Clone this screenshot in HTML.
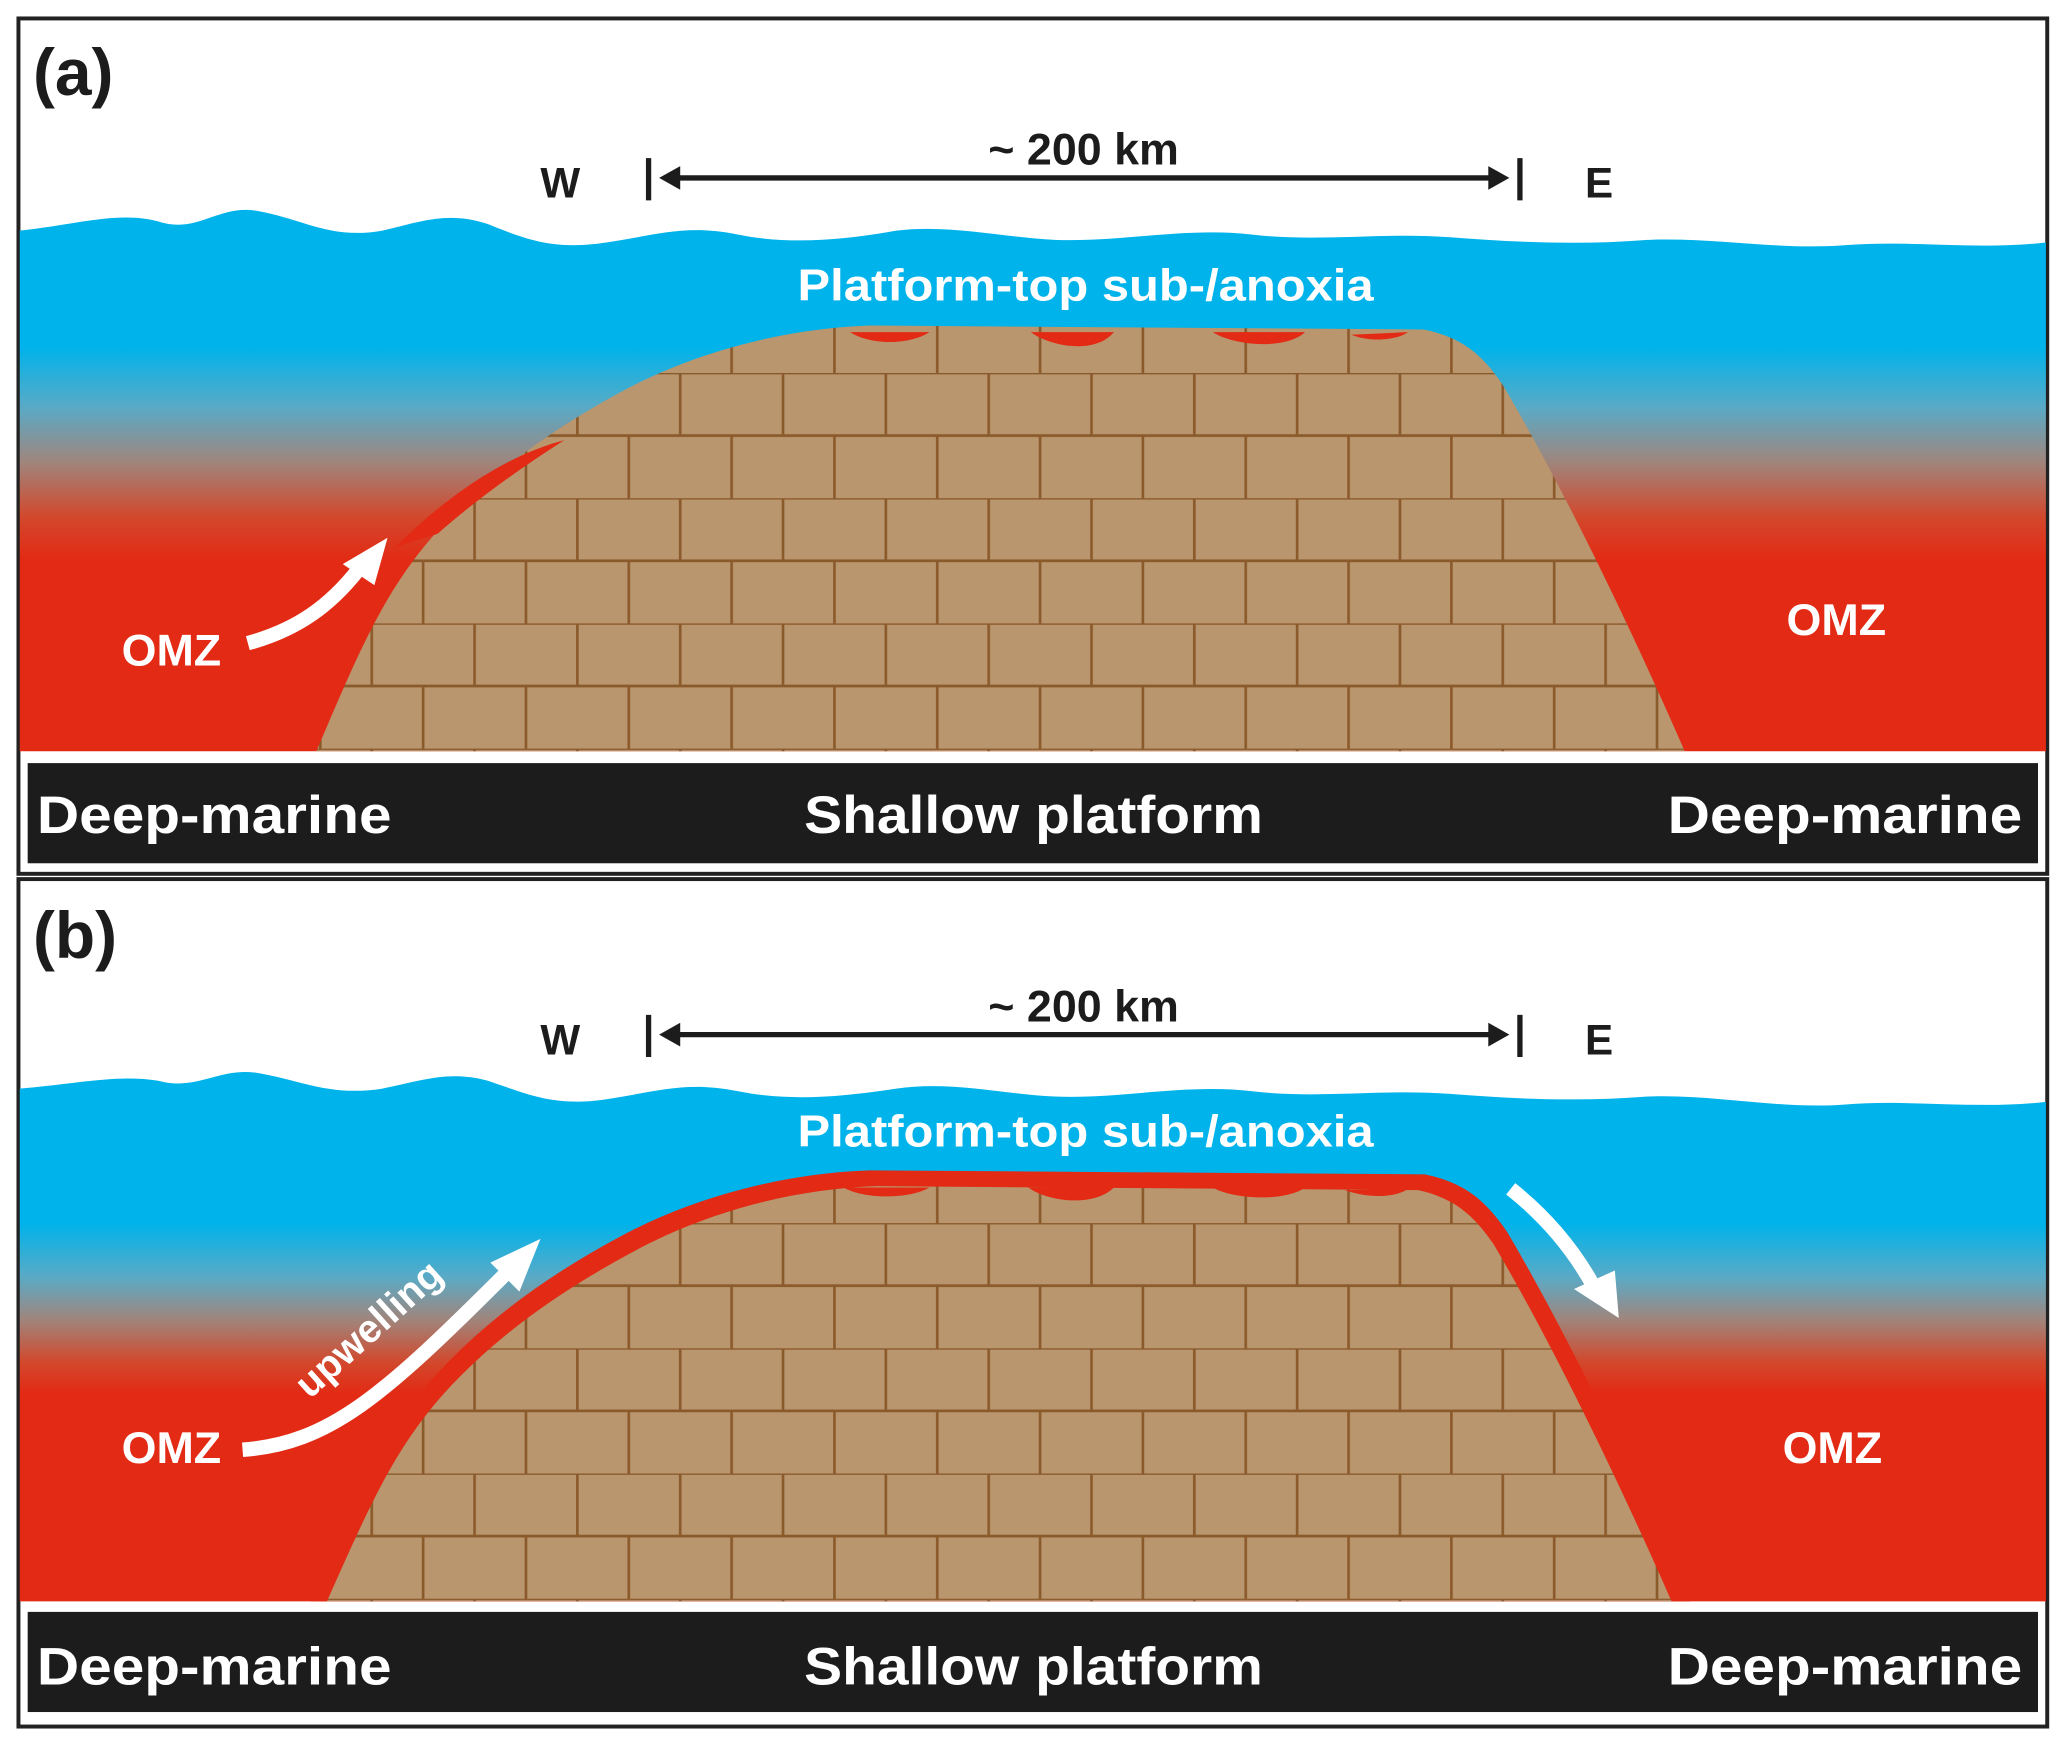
<!DOCTYPE html>
<html><head><meta charset="utf-8"><style>
html,body{margin:0;padding:0;background:#fff;}
svg{display:block;}
text{font-family:"Liberation Sans",sans-serif;font-weight:bold;}
</style></head><body>
<svg width="2067" height="1745" viewBox="0 0 1568 1324" preserveAspectRatio="none" xmlns="http://www.w3.org/2000/svg">
<defs>
<linearGradient id="wa" gradientUnits="userSpaceOnUse" x1="0" y1="160" x2="0" y2="575">
<stop offset="0" stop-color="#00b3ea"/>
<stop offset="0.25" stop-color="#00b3ea"/>
<stop offset="0.36" stop-color="#5aaac6"/>
<stop offset="0.46" stop-color="#a0857c"/>
<stop offset="0.56" stop-color="#d2482c"/>
<stop offset="0.64" stop-color="#e32a14"/>
<stop offset="1" stop-color="#e32a14"/>
</linearGradient>
<linearGradient id="wb" gradientUnits="userSpaceOnUse" x1="0" y1="815" x2="0" y2="1220">
<stop offset="0" stop-color="#00b3ea"/>
<stop offset="0.28" stop-color="#00b3ea"/>
<stop offset="0.38" stop-color="#5aaac6"/>
<stop offset="0.46" stop-color="#a0857c"/>
<stop offset="0.54" stop-color="#d2482c"/>
<stop offset="0.6" stop-color="#e32a14"/>
<stop offset="1" stop-color="#e32a14"/>
</linearGradient>
<pattern id="brA" patternUnits="userSpaceOnUse" x="0" y="283" width="156" height="95">
<rect width="156" height="95" fill="#b9966d"/>
<path d="M0,0H156M0,47.5H156M48,0V47.5M126,0V47.5M9,47.5V95M87,47.5V95" stroke="#8b5a2b" stroke-width="2" fill="none"/>
</pattern>
<pattern id="brB" patternUnits="userSpaceOnUse" x="0" y="928" width="156" height="95">
<rect width="156" height="95" fill="#b9966d"/>
<path d="M0,0H156M0,47.5H156M48,0V47.5M126,0V47.5M9,47.5V95M87,47.5V95" stroke="#8b5a2b" stroke-width="2" fill="none"/>
</pattern>
<clipPath id="cb"><rect x="14" y="667" width="1539" height="548"/></clipPath>
</defs>

<!-- Panel a -->
<rect x="14" y="14" width="1539" height="649" fill="#fff" stroke="#222" stroke-width="3"/>
<path d="M15,175 C60,170 90,160 120,168 C150,178 165,155 195,160 C230,166 250,182 290,175 C320,168 340,160 370,170 C400,182 420,190 460,184 C500,178 520,170 560,178 C600,186 640,182 680,175 C720,170 760,180 800,182 C850,184 900,172 950,178 C1000,184 1050,176 1100,180 C1150,184 1200,186 1250,182 C1300,180 1350,190 1400,186 C1450,182 1500,190 1552,184 L1552,570 L15,570 Z" fill="url(#wa)"/>
<path d="M240,570 C270,500 290,450 330,405 C370,360 420,325 470,298 C530,265 600,249 660,247 L1080,250 C1110,256 1125,270 1140,292 C1180,360 1230,460 1278,570 Z" fill="url(#brA)"/>
<path d="M300,415 C340,375 385,345 428,334 C395,355 360,380 332,405 Z" fill="#e32a14"/>
<path d="M645,252 C660,262 690,262 705,252 Z M782,252 C795,262 830,270 845,252 Z M920,252 C935,262 975,266 990,252 Z M1025,254 C1040,260 1060,258 1068,252 Z" fill="#e32a14"/>
<rect x="20" y="578" width="1527" height="78" fill="#1c1c1c" stroke="#fff" stroke-width="2"/>
<text x="25" y="72" font-size="50" fill="#1c1c1c">(a)</text>
<text x="425" y="150" font-size="32" fill="#1c1c1c" text-anchor="middle">W</text>
<text x="1213" y="150" font-size="32" fill="#1c1c1c" text-anchor="middle">E</text>
<text x="822" y="125" font-size="34" fill="#1c1c1c" text-anchor="middle">~ 200 km</text>
<path d="M492,120V152M1153,120V152M510,135H1135" stroke="#1c1c1c" stroke-width="4"/>
<path d="M500,135 L516,126 L516,144 Z M1145,135 L1129,126 L1129,144 Z" fill="#1c1c1c"/>
<text x="605" y="228" font-size="34" fill="#fff" textLength="437" lengthAdjust="spacingAndGlyphs">Platform-top sub-/anoxia</text>
<text x="130" y="505" font-size="34" fill="#fff" text-anchor="middle">OMZ</text>
<text x="1393" y="482" font-size="34" fill="#fff" text-anchor="middle">OMZ</text>
<path d="M188,488 C225,478 250,460 272,432" stroke="#fff" stroke-width="11" fill="none"/>
<path d="M294,408 L260,428 L284,444 Z" fill="#fff"/>
<text x="28" y="632" font-size="40" fill="#fff" textLength="269" lengthAdjust="spacingAndGlyphs">Deep-marine</text>
<text x="610" y="632" font-size="40" fill="#fff" textLength="348" lengthAdjust="spacingAndGlyphs">Shallow platform</text>
<text x="1265" y="632" font-size="40" fill="#fff" textLength="269" lengthAdjust="spacingAndGlyphs">Deep-marine</text>

<!-- Panel b -->
<rect x="14" y="667" width="1539" height="643" fill="#fff" stroke="#222" stroke-width="3"/>
<path d="M15,826 C60,822 90,815 120,820 C150,828 165,810 195,814 C230,820 250,832 290,826 C320,820 340,812 370,820 C400,830 420,840 460,834 C500,828 520,820 560,828 C600,836 640,832 680,826 C720,820 760,830 800,832 C850,834 900,822 950,828 C1000,834 1050,826 1100,830 C1150,834 1200,836 1250,832 C1300,830 1350,842 1400,838 C1450,834 1500,842 1552,836 L1552,1215 L15,1215 Z" fill="url(#wb)"/>
<g clip-path="url(#cb)">
<path d="M240,1215 C270,1145 290,1095 330,1050 C370,1005 420,970 470,943 C530,910 600,894 660,892 L1080,895 C1110,901 1125,915 1140,937 C1180,1005 1230,1105 1278,1215 Z" fill="#e32a14" stroke="#e32a14" stroke-width="8"/>
<path d="M248,1215 C278,1148 298,1100 338,1056 C378,1012 428,978 478,951 C538,918 605,902 665,900 L1076,903 C1103,909 1118,922 1133,944 C1172,1010 1222,1110 1268,1215 Z" fill="url(#brB)"/>
</g>
<path d="M640,901 C655,910 690,910 705,901 Z M780,901 C795,912 830,916 845,901 Z M920,901 C935,910 975,912 990,901 Z M1020,903 C1040,910 1060,908 1068,902 Z" fill="#e32a14"/>
<rect x="20" y="1222" width="1527" height="78" fill="#1c1c1c" stroke="#fff" stroke-width="2"/>
<text x="25" y="727" font-size="50" fill="#1c1c1c">(b)</text>
<text x="425" y="800" font-size="32" fill="#1c1c1c" text-anchor="middle">W</text>
<text x="1213" y="800" font-size="32" fill="#1c1c1c" text-anchor="middle">E</text>
<text x="822" y="775" font-size="34" fill="#1c1c1c" text-anchor="middle">~ 200 km</text>
<path d="M492,770V802M1153,770V802M510,785H1135" stroke="#1c1c1c" stroke-width="4"/>
<path d="M500,785 L516,776 L516,794 Z M1145,785 L1129,776 L1129,794 Z" fill="#1c1c1c"/>
<text x="605" y="870" font-size="34" fill="#fff" textLength="437" lengthAdjust="spacingAndGlyphs">Platform-top sub-/anoxia</text>
<text x="130" y="1110" font-size="34" fill="#fff" text-anchor="middle">OMZ</text>
<text x="1390" y="1110" font-size="34" fill="#fff" text-anchor="middle">OMZ</text>
<path d="M184,1100 C250,1095 290,1060 385,965" stroke="#fff" stroke-width="11" fill="none"/>
<path d="M410,940 L372,958 L394,980 Z" fill="#fff"/>
<text transform="translate(235,1062) rotate(-42)" font-size="30" fill="#fff">upwelling</text>
<path d="M1146,902 C1175,925 1195,950 1210,978" stroke="#fff" stroke-width="11" fill="none"/>
<path d="M1228,1000 L1194,978 L1225,964 Z" fill="#fff"/>
<text x="28" y="1278" font-size="40" fill="#fff" textLength="269" lengthAdjust="spacingAndGlyphs">Deep-marine</text>
<text x="610" y="1278" font-size="40" fill="#fff" textLength="348" lengthAdjust="spacingAndGlyphs">Shallow platform</text>
<text x="1265" y="1278" font-size="40" fill="#fff" textLength="269" lengthAdjust="spacingAndGlyphs">Deep-marine</text>
</svg>
</body></html>
